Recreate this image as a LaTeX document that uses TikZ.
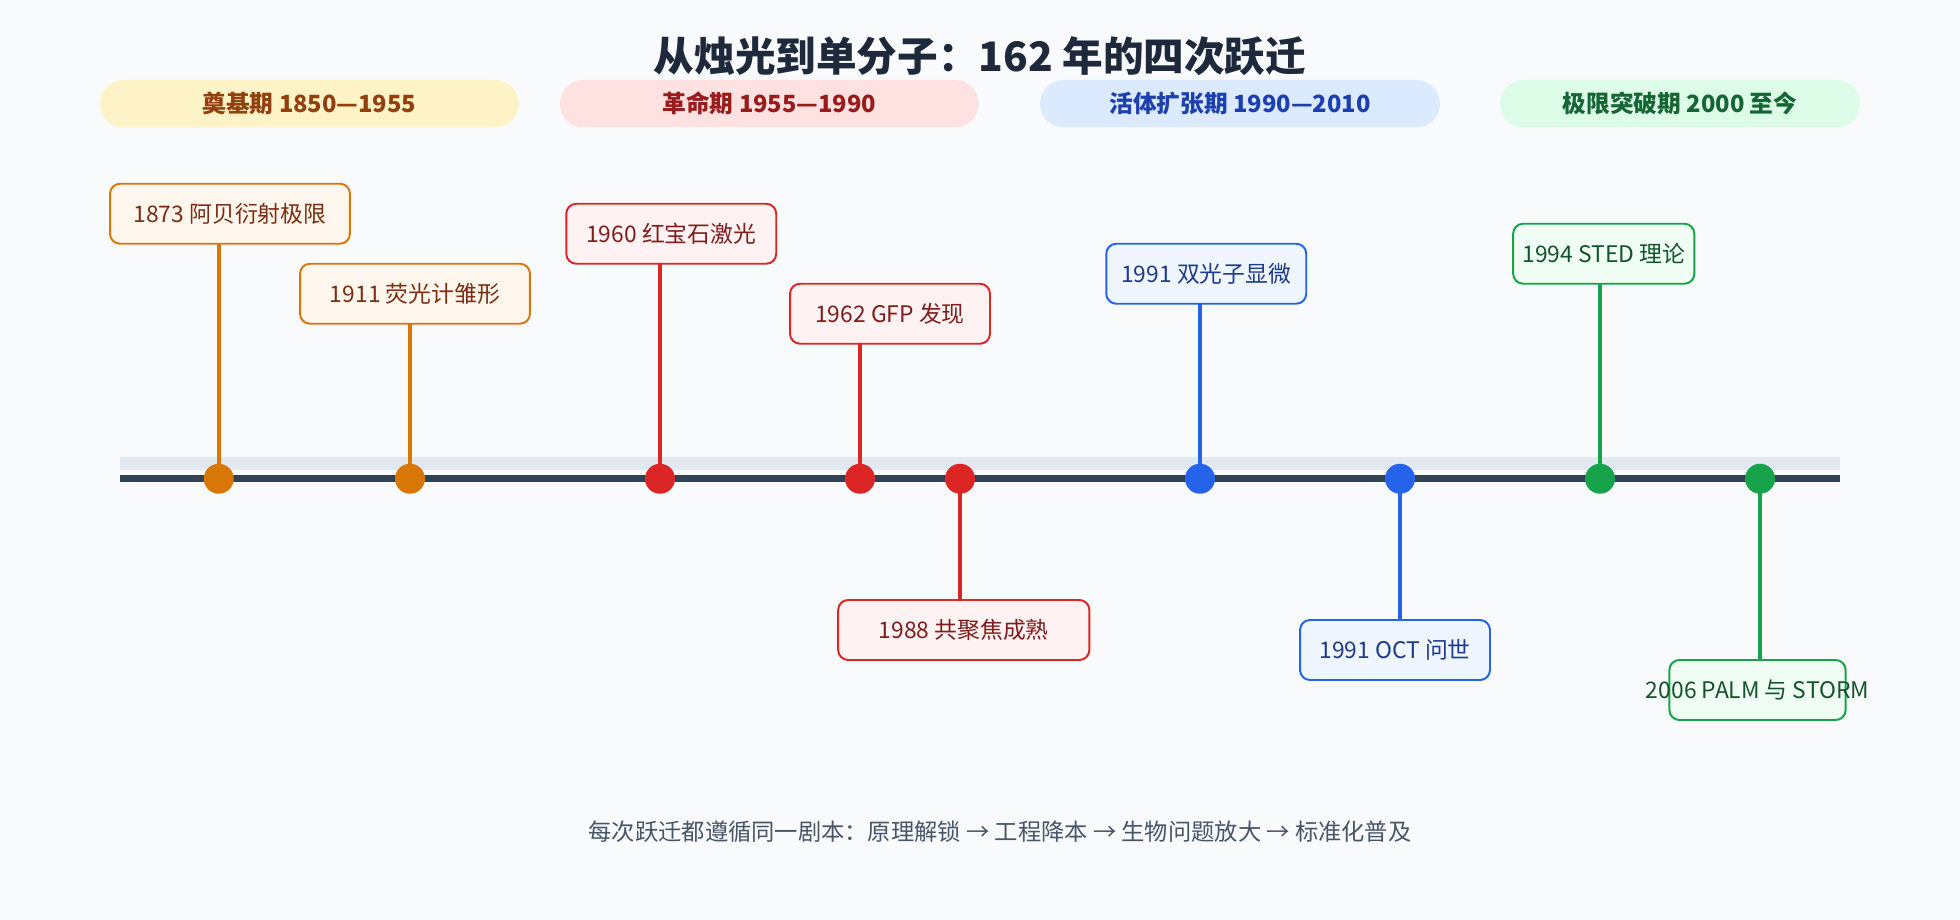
\documentclass[tikz,border=0pt]{standalone}
\usepackage{fontspec}
\setmainfont{Noto Sans CJK SC}
\begin{document}
\begin{tikzpicture}[x=0.02cm,y=-0.02cm,
 box/.style={draw,line width=0.9pt,rounded corners=0.16cm,minimum height=0.96cm,inner sep=0pt},
 lbl/.style={font=\fontsize{10.4}{12}\selectfont},
 pill/.style={rounded corners=0.38cm,minimum height=0.76cm,inner sep=0pt,font=\fontsize{10.8}{12}\bfseries\selectfont},
 dot/.style={circle,minimum size=0.48cm,inner sep=0pt},
 stem/.style={line width=1.6pt}]
\definecolor{bg}{HTML}{F8FAFC}
\definecolor{ttl}{HTML}{1E293B}
\definecolor{band}{HTML}{E2E8F0}\definecolor{axis}{HTML}{334155}\definecolor{foot}{HTML}{475569}
\definecolor{p1F}{HTML}{FEF3C7}\definecolor{p1T}{HTML}{92400E}
\definecolor{p2F}{HTML}{FEE2E2}\definecolor{p2T}{HTML}{991B1B}
\definecolor{p3F}{HTML}{DBEAFE}\definecolor{p3T}{HTML}{1E40AF}
\definecolor{p4F}{HTML}{DCFCE7}\definecolor{p4T}{HTML}{166534}
\definecolor{oS}{HTML}{D97706}\definecolor{oF}{HTML}{FFF7ED}\definecolor{oT}{HTML}{7C2D12}
\definecolor{rS}{HTML}{DC2626}\definecolor{rF}{HTML}{FEF2F2}\definecolor{rT}{HTML}{7F1D1D}
\definecolor{bS}{HTML}{2563EB}\definecolor{bF}{HTML}{EFF6FF}\definecolor{bT}{HTML}{1E3A8A}
\definecolor{gS}{HTML}{16A34A}\definecolor{gF}{HTML}{F0FDF4}\definecolor{gT}{HTML}{14532D}
\fill[bg] (0,0) rectangle (1568,736);
\useasboundingbox (0,0) rectangle (1568,736);
\node[font=\fontsize{18.5}{22}\bfseries\selectfont,text=ttl] (title) at (784,45) {从烛光到单分子：162 年的四次跃迁};
\node[pill,fill=p1F,text=p1T,minimum width=6.7cm] (p1) at (247.5,83) {奠基期 1850—1955};
\node[pill,fill=p2F,text=p2T,minimum width=6.7cm] (p2) at (615.5,83) {革命期 1955—1990};
\node[pill,fill=p3F,text=p3T,minimum width=6.4cm] (p3) at (992,83) {活体扩张期 1990—2010};
\node[pill,fill=p4F,text=p4T,minimum width=5.76cm] (p4) at (1344,83) {极限突破期 2000 至今};
\fill[band] (96,366) rectangle (1472,376);
\coordinate (L) at (96,383); \coordinate (R) at (1472,383);
\draw[line width=3pt,axis] (L) -- (R);
\foreach \n/\x/\bx/\by/\w/\c/\t in {
 a/175/184/171/3.84/o/{1873 阿贝衍射极限},
 b/328/332/235/3.68/o/{1911 荧光计雏形},
 c/528/537/187/3.36/r/{1960 红宝石激光},
 d/688/712/251/3.2/r/{1962 GFP 发现},
 e/768/771/504/4.02/r/{1988 共聚焦成熟},
 f/960/965/219/3.2/b/{1991 双光子显微},
 g/1120/1116/520/3.04/b/{1991 OCT 问世},
 h/1280/1283/203/2.9/g/{1994 STED 理论},
 i/1408/1406/552/2.82/g/{2006 PALM 与 STORM}}{
 \coordinate (d\n) at (\x,383);
 \coordinate (e\n) at (\x,\by);
 \draw[stem,\c S] (d\n) -- (e\n);
 \node[box,draw=\c S,fill=\c F,minimum width=\w cm] (box\n) at (\bx,\by) {};
 \node[lbl,text=\c T] (t\n) at (\bx,\by) {\t};
 \node[dot,fill=\c S] (dot\n) at (d\n) {};
}
\node[font=\fontsize{10.6}{12}\selectfont,text=foot] (ft) at (800,665) {每次跃迁都遵循同一剧本：原理解锁 → 工程降本 → 生物问题放大 → 标准化普及};
\end{tikzpicture}
\end{document}
